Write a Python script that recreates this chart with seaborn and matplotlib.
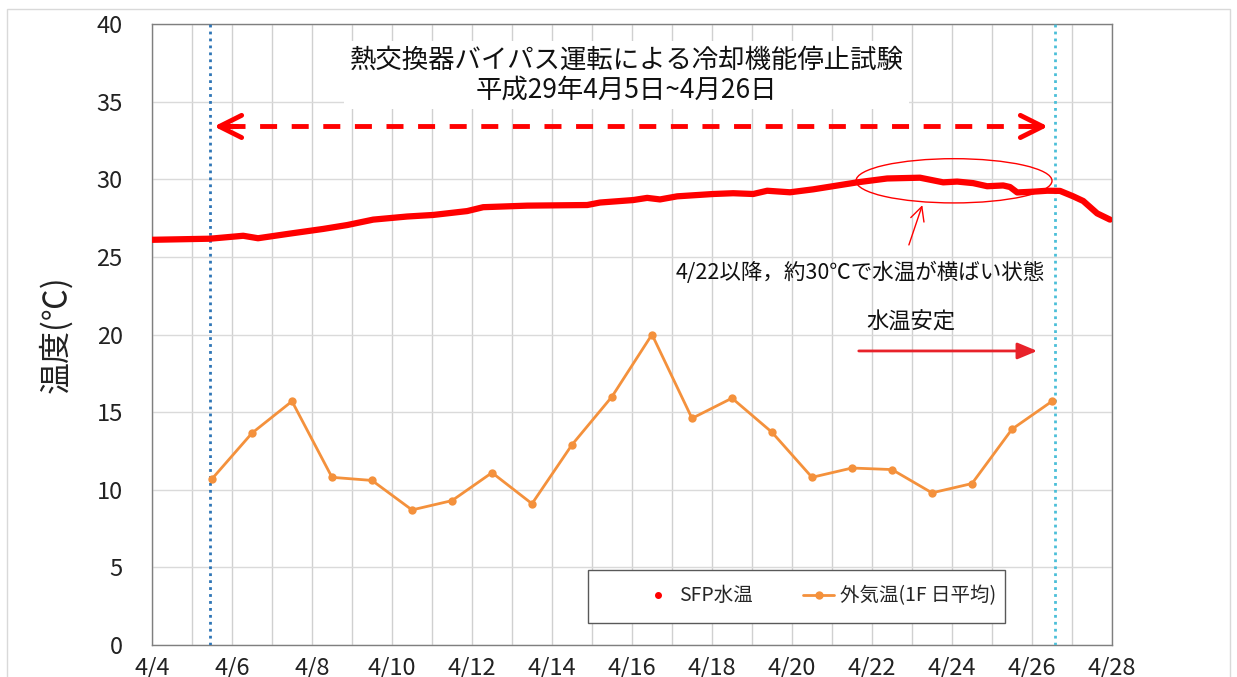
import seaborn as sns
import matplotlib.pyplot as plt
from matplotlib.patches import Ellipse, Rectangle
from matplotlib.lines import Line2D
from matplotlib.ticker import MultipleLocator

# ----------------------------------------------------------------------
# Data (x = day of April)
# ----------------------------------------------------------------------
SFP_DAY = [4.0, 5.45, 6.28, 6.65, 7.45, 8.28, 8.88, 9.53, 10.38, 11.03,
           11.88, 12.28, 13.38, 14.88, 15.2, 16.03, 16.38, 16.7, 17.13, 18.03,
           18.53, 19.03, 19.38, 19.95, 20.53, 21.63, 22.38, 23.2, 23.78, 24.13,
           24.53, 24.88, 25.28, 25.45, 25.63, 26.03, 26.38, 26.7, 27.03, 27.28,
           27.63, 27.95]
SFP_TEMP = [26.1, 26.17, 26.36, 26.2, 26.5, 26.8, 27.05, 27.4, 27.6, 27.7,
            27.95, 28.2, 28.3, 28.34, 28.5, 28.66, 28.8, 28.7, 28.9, 29.05,
            29.1, 29.05, 29.26, 29.16, 29.35, 29.8, 30.05, 30.1, 29.8, 29.85,
            29.75, 29.55, 29.6, 29.5, 29.15, 29.2, 29.26, 29.25, 28.9, 28.6,
            27.8, 27.4]

OUT_DAY = [5.5, 6.5, 7.5, 8.5, 9.5, 10.5, 11.5, 12.5, 13.5, 14.5, 15.5,
           16.5, 17.5, 18.5, 19.5, 20.5, 21.5, 22.5, 23.5, 24.5, 25.5, 26.5]
OUT_TEMP = [10.7, 13.65, 15.7, 10.8, 10.6, 8.7, 9.3, 11.1, 9.1, 12.9, 16.0,
            20.0, 14.6, 15.9, 13.7, 10.8, 11.4, 11.3, 9.8, 10.4, 13.9, 15.7]

TICK_DAYS = [4, 6, 8, 10, 12, 14, 16, 18, 20, 22, 24, 26, 28]
TICK_LABELS = [f"4/{d}" for d in TICK_DAYS]

TITLE = "熱交換器バイパス運転による冷却機能停止試験\n平成29年4月5日~4月26日"
NOTE_FLAT = "4/22以降，約30℃で水温が横ばい状態"
NOTE_STABLE = "水温安定"

RED = "#ff0000"
ORANGE = "#f4913c"

# ----------------------------------------------------------------------
# Style
# ----------------------------------------------------------------------
sns.set_style("white")
plt.rcParams["font.family"] = ["Noto Sans CJK JP", "DejaVu Sans"]

fig = plt.figure(figsize=(12.37, 6.77), dpi=100)
ax = fig.add_axes([152 / 1237, 32 / 677, 960 / 1237, 621 / 677])

# main series
sns.lineplot(x=SFP_DAY, y=SFP_TEMP, ax=ax, color=RED, lw=4.5, sort=False,
             solid_capstyle="round", zorder=4)
sns.lineplot(x=OUT_DAY, y=OUT_TEMP, ax=ax, color=ORANGE, lw=2, marker="o",
             markersize=6, markeredgewidth=0, sort=False, zorder=4)

ax.set_xlim(4, 28)
ax.set_ylim(0, 40)

# ticks and grid
ax.set_xticks(TICK_DAYS)
ax.set_xticklabels(TICK_LABELS)
ax.xaxis.set_minor_locator(MultipleLocator(1))
ax.yaxis.set_major_locator(MultipleLocator(5))
ax.yaxis.set_minor_locator(MultipleLocator(1))
ax.tick_params(axis="x", which="both", direction="in", length=7, width=1,
               color="#7f7f7f", pad=8, labelsize=17, labelcolor="#222222")
ax.tick_params(axis="y", which="both", direction="in", length=6, width=1,
               color="#7f7f7f", pad=21, labelsize=17, labelcolor="#222222")
ax.grid(which="major", axis="y", color="#dadada", lw=1)
ax.grid(which="both", axis="x", color="#d0d0d0", lw=1)
ax.set_axisbelow(True)
for sp in ax.spines.values():
    sp.set_color("#7f7f7f")
    sp.set_linewidth(1)

ax.set_ylabel("温度(℃)", fontsize=23, color="#222222")
ax.yaxis.set_label_coords(-0.083, 0.5)

# test period markers
ax.axvline(5.45, color="#2e75b6", ls=(0, (1, 1.5)), lw=2, zorder=3)
ax.axvline(26.58, color="#4bbfd8", ls=(0, (1, 1.5)), lw=2, zorder=3)

# dashed double arrow
ax.plot([5.9, 26.0], [33.4, 33.4], color=RED, lw=3.5, ls=(0, (3.5, 3)),
        solid_capstyle="butt", zorder=5)
for tip, tail in [(5.48, 6.2), (26.47, 25.8)]:
    ax.annotate("", xy=(tip, 33.4), xytext=(tail, 33.4),
                arrowprops=dict(arrowstyle="->,head_length=0.8,head_width=0.4",
                                color=RED, lw=3.5, mutation_scale=20),
                zorder=5)

# title box
ax.text(15.86, 36.7, TITLE, ha="center", va="center", fontsize=19,
        linespacing=1.15, color="#111111", zorder=6,
        bbox=dict(facecolor="white", edgecolor="none", pad=4))

# flat-temperature annotation
ax.add_patch(Ellipse((24.05, 29.9), 4.9, 2.85, fill=False, edgecolor=RED,
                     lw=1, zorder=5))
ax.annotate("", xy=(23.28, 28.5), xytext=(22.9, 25.6),
            arrowprops=dict(arrowstyle="->,head_length=0.5,head_width=0.25",
                            color=RED, lw=1, mutation_scale=20), zorder=5)
ax.text(17.1, 24.0, NOTE_FLAT, ha="left", va="center", fontsize=15.5,
        color="#111111", zorder=6)

# stable annotation
ax.text(21.85, 20.8, NOTE_STABLE, ha="left", va="center", fontsize=16,
        color="#111111", zorder=6)
ax.annotate("", xy=(26.2, 18.94), xytext=(21.6, 18.94),
            arrowprops=dict(arrowstyle="-|>,head_length=0.6,head_width=0.25",
                            color="#e8222a", lw=2, mutation_scale=20), zorder=5)

# legend with a square frame
ax.add_patch(Rectangle((436 / 960, 22 / 621), 417 / 960, 53 / 621,
                       transform=ax.transAxes, facecolor="white",
                       edgecolor="#595959", lw=1, zorder=7))
handles = [Line2D([], [], color=RED, marker="o", markersize=4, ls="None"),
           Line2D([], [], color=ORANGE, lw=2, marker="o", markersize=6,
                  markeredgewidth=0)]
leg = ax.legend(handles, ["SFP水温", "外気温(1F 日平均)"], ncol=2,
                loc="center", bbox_to_anchor=(0.695, 0.079), frameon=False,
                fontsize=14, handlelength=1.6, handletextpad=0.3,
                columnspacing=2.6)
leg.set_zorder(8)

# outer figure border
fig.add_artist(Rectangle((7 / 1237, -0.05), 1223 / 1237, 668 / 677 + 0.05,
                         transform=fig.transFigure, fill=False,
                         edgecolor="#d9d9d9", lw=1))

fig.savefig("out.png", dpi=100)
